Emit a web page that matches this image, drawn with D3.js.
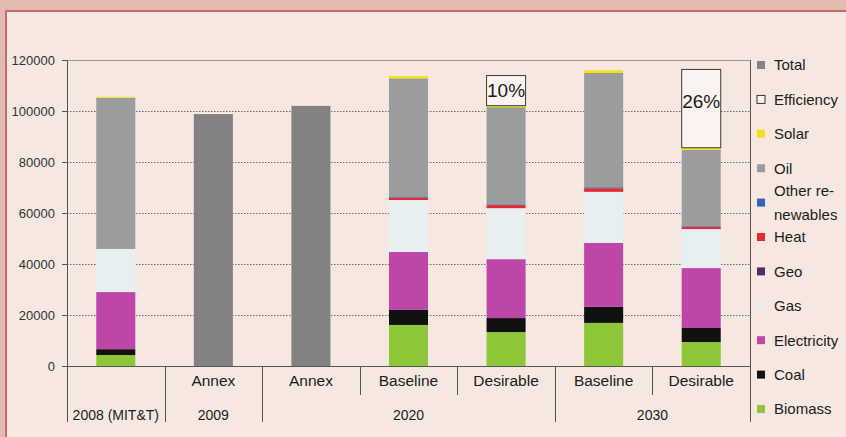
<!DOCTYPE html>
<html lang="en">
<head>
  <meta charset="UTF-8" />
  <title>Energy demand by source – stacked bars</title>
  <script src="https://d3js.org/d3.v7.min.js"></script>
  <style>
    body { margin: 0; background: #e2bab0; }
    svg { display: block; font-family: "Liberation Sans", Arial, sans-serif; }
    .ytick text { font-size: 13px; fill: #333; }
    .scen { font-size: 15.5px; fill: #1c1c1c; }
    .year { font-size: 14px; fill: #1c1c1c; }
    .legend text { font-size: 15px; fill: #1c1c1c; }
  </style>
</head>
<body>
<svg id="chart" width="846" height="437"></svg>
<script>
  // ---- data ----
  const bars = ["b2008", "a2009", "a2020", "base2020", "des2020", "base2030", "des2030"];
  const scenarioLabels = ["", "Annex", "Annex", "Baseline", "Desirable", "Baseline", "Desirable"];
  const yearLabels = ["2008 (MIT&T)", "2009", "2020", "2030"];
  const yearSpans = [1, 1, 3, 2];

  const biomass         = [4300, 0, 0, 16100, 13300, 16900, 9400];
  const coal            = [2300, 0, 0, 5900, 5500, 6300, 5500];
  const electricity     = [22400, 0, 0, 22700, 23100, 25100, 23500];
  const gas             = [16900, 0, 0, 20400, 20000, 20000, 15300];
  const geo             = [0, 0, 0, 0, 0, 0, 0];
  const heat            = [0, 0, 0, 1000, 1200, 1400, 800];
  const otherRenewables = [0, 0, 0, 400, 300, 400, 300];
  const oil             = [59300, 0, 0, 46300, 38100, 44800, 30000];
  const solar           = [400, 0, 0, 900, 600, 1100, 800];
  const efficiency      = [0, 0, 0, 0, 11800, 0, 30700];
  const total           = [0, 98800, 102000, 0, 0, 0, 0];
  const efficiencyLabels = ["", "", "", "", "10%", "", "26%"];

  const yTicks = [0, 20000, 40000, 60000, 80000, 100000, 120000];

  const seriesKeys = ["biomass", "coal", "electricity", "gas", "geo", "heat",
                      "otherRenewables", "oil", "solar", "efficiency", "total"];
  const seriesValues = { biomass, coal, electricity, gas, geo, heat,
                         otherRenewables, oil, solar, efficiency, total };
  const colors = {
    total: "#828282", efficiency: "#fbf3f0", solar: "#f2e414", oil: "#9b9c9e",
    otherRenewables: "#3462bd", heat: "#e42a2a", geo: "#582a6c", gas: "#e8eff1",
    electricity: "#bd46a7", coal: "#111111", biomass: "#8ec63a"
  };
  const legendItems = [
    ["total", ["Total"]], ["efficiency", ["Efficiency"]], ["solar", ["Solar"]],
    ["oil", ["Oil"]], ["otherRenewables", ["Other re-", "newables"]], ["heat", ["Heat"]],
    ["geo", ["Geo"]], ["gas", ["Gas"]], ["electricity", ["Electricity"]],
    ["coal", ["Coal"]], ["biomass", ["Biomass"]]
  ];

  // ---- layout ----
  const W = 846, H = 437;
  const plotLeft = 67, plotRight = 750, plotTop = 60, zeroY = 366, axisBottom = 422;

  const svg = d3.select("#chart");

  // frame
  svg.append("rect").attr("width", W).attr("height", H).attr("fill", "#e2bab0");
  svg.append("rect").attr("x", 6).attr("y", 11).attr("width", W - 6).attr("height", H - 11)
    .attr("fill", "#f6e7e1");
  svg.append("line").attr("x1", 5).attr("x2", W).attr("y1", 11).attr("y2", 11)
    .attr("stroke", "#c66f6b").attr("stroke-width", 2);
  svg.append("line").attr("x1", 6).attr("x2", 6).attr("y1", 11).attr("y2", H)
    .attr("stroke", "#c66f6b").attr("stroke-width", 2);

  const x = d3.scaleBand().domain(bars).range([plotLeft, plotRight])
    .paddingInner(0.6).paddingOuter(0.3);
  const y = d3.scaleLinear().domain([0, 120000]).range([zeroY, plotTop]);
  const step = x.step();

  // gridlines
  svg.append("g").selectAll("line")
    .data(yTicks.filter(d => d > 0 && d < 120000))
    .join("line")
    .attr("x1", plotLeft).attr("x2", plotRight)
    .attr("y1", d => y(d) + 0.5).attr("y2", d => y(d) + 0.5)
    .attr("stroke", "#6c6c6c").attr("stroke-dasharray", "1.5,1.5");
  svg.append("line").attr("x1", plotLeft).attr("x2", plotRight)
    .attr("y1", y(120000) + 0.5).attr("y2", y(120000) + 0.5)
    .attr("stroke", "#a09896");

  // y axis
  const yAxis = svg.append("g").attr("class", "ytick")
    .attr("transform", `translate(${plotLeft},0)`)
    .call(d3.axisLeft(y).tickValues(yTicks).tickSize(5).tickPadding(7)
      .tickFormat(d3.format("d")));
  yAxis.select(".domain").remove();
  yAxis.selectAll("line").attr("stroke", "#555");
  yAxis.selectAll("text").attr("fill", "#333");

  // stacked bars
  const rows = bars.map((b, i) => {
    const r = { bar: b };
    seriesKeys.forEach(k => r[k] = seriesValues[k][i]);
    return r;
  });
  const stacked = d3.stack().keys(seriesKeys)(rows);

  svg.append("g").selectAll("g")
    .data(stacked)
    .join("g")
    .attr("fill", d => colors[d.key])
    .attr("stroke", d => d.key === "efficiency" ? "#3a3a3a" : "none")
    .selectAll("rect")
    .data(d => d.filter(s => s[1] - s[0] > 0))
    .join("rect")
    .attr("x", d => x(d.data.bar))
    .attr("width", x.bandwidth())
    .attr("y", d => y(d[1]))
    .attr("height", d => y(d[0]) - y(d[1]));

  // efficiency labels
  const effLayer = stacked.find(s => s.key === "efficiency");
  svg.append("g").selectAll("text")
    .data(effLayer.map((s, i) => ({ s, label: efficiencyLabels[i], bar: bars[i] }))
      .filter(d => d.label))
    .join("text")
    .attr("x", d => x(d.bar) + x.bandwidth() / 2)
    .attr("y", d => Math.min((y(d.s[0]) + y(d.s[1])) / 2, y(d.s[1]) + 32))
    .attr("dy", "0.36em")
    .attr("text-anchor", "middle")
    .attr("font-size", 19)
    .attr("fill", "#1c1c1c")
    .text(d => d.label);

  // category axis
  svg.append("line").attr("x1", plotLeft).attr("x2", plotRight)
    .attr("y1", zeroY + 0.5).attr("y2", zeroY + 0.5).attr("stroke", "#555");
  svg.append("line").attr("x1", plotLeft + 0.5).attr("x2", plotLeft + 0.5)
    .attr("y1", plotTop).attr("y2", axisBottom).attr("stroke", "#555");
  svg.append("line").attr("x1", plotRight + 0.5).attr("x2", plotRight + 0.5)
    .attr("y1", plotTop).attr("y2", axisBottom).attr("stroke", "#555");

  const groupEnds = Array.from(d3.cumsum(yearSpans));
  const boundaries = d3.range(1, bars.length).map(i => ({
    x: plotLeft + i * step,
    full: groupEnds.includes(i)
  }));
  svg.append("g").selectAll("line")
    .data(boundaries)
    .join("line")
    .attr("x1", d => Math.round(d.x) + 0.5).attr("x2", d => Math.round(d.x) + 0.5)
    .attr("y1", zeroY).attr("y2", d => d.full ? axisBottom : 395)
    .attr("stroke", "#555");

  svg.append("g").selectAll("text")
    .data(bars.map((b, i) => ({ b, label: scenarioLabels[i] })).filter(d => d.label))
    .join("text")
    .attr("class", "scen")
    .attr("x", d => x(d.b) + x.bandwidth() / 2)
    .attr("y", 386)
    .attr("text-anchor", "middle")
    .text(d => d.label);

  const groupStarts = [0, ...groupEnds.slice(0, -1)];
  svg.append("g").selectAll("text")
    .data(yearLabels.map((label, i) => ({ label, start: groupStarts[i], span: yearSpans[i] })))
    .join("text")
    .attr("class", "year")
    .attr("x", d => plotLeft + (d.start + d.span / 2) * step)
    .attr("y", 420)
    .attr("text-anchor", "middle")
    .text(d => d.label);

  // legend
  const legend = svg.append("g").attr("class", "legend");
  const ly = d3.scaleLinear().domain([0, legendItems.length - 1]).range([65, 409]);
  const li = legend.selectAll("g")
    .data(legendItems)
    .join("g")
    .attr("transform", (d, i) => `translate(757,${ly(i)})`);
  li.append("rect")
    .attr("x", 0).attr("y", -4).attr("width", 8).attr("height", 8)
    .attr("fill", d => colors[d[0]])
    .attr("stroke", d => d[0] === "efficiency" ? "#333" : "none");
  li.append("text")
    .selectAll("tspan")
    .data(d => d[1].map((t, j) => ({ t, j, n: d[1].length })))
    .join("tspan")
    .attr("x", 17)
    .attr("y", d => (d.j - (d.n - 1) / 2) * 24)
    .attr("dy", "0.36em")
    .text(d => d.t);
</script>
</body>
</html>
